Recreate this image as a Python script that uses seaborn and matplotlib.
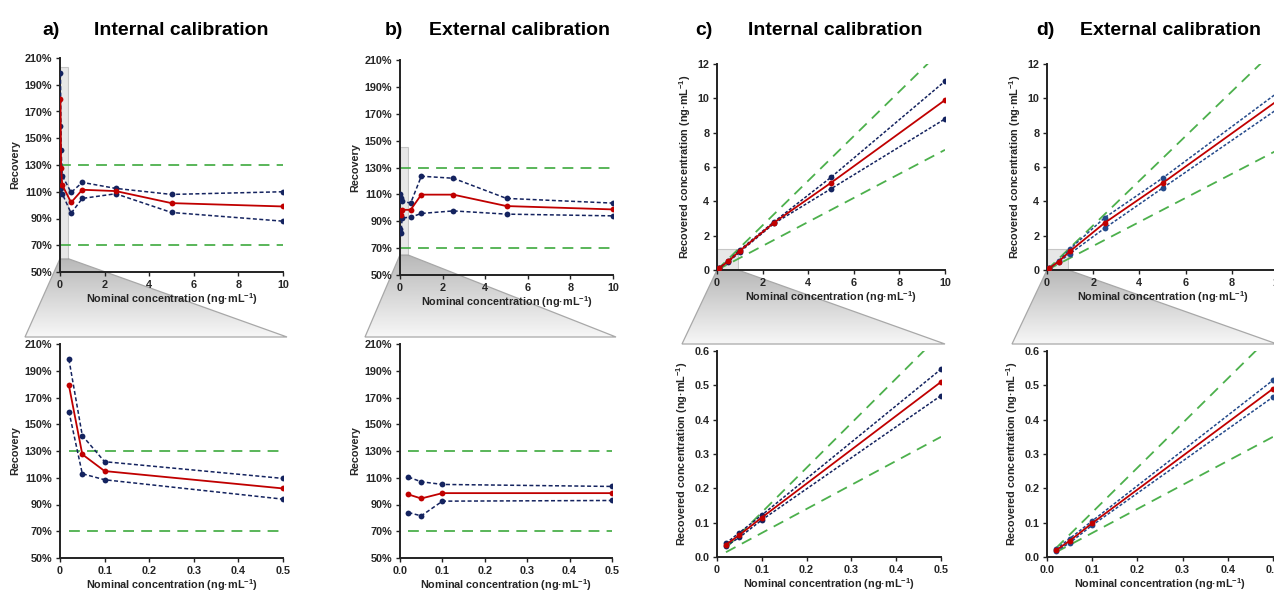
import numpy as np
import matplotlib
matplotlib.use("Agg")
import matplotlib.pyplot as plt
from matplotlib.patches import Polygon, Rectangle
from matplotlib.colors import LinearSegmentedColormap
from matplotlib.ticker import PercentFormatter
import seaborn as sns

W, H = 1274, 591

# nominal spiking levels (ng/mL)
nominal = [0.02, 0.05, 0.1, 0.5, 1, 2.5, 5, 10]

# recovery (%) - internal calibration
int_rec_mean = [179, 127.5, 115, 102, 111.5, 110.5, 101.5, 99]
int_rec_hi = [198.5, 141.5, 122, 109.5, 117, 112.5, 108, 110]
int_rec_lo = [159.5, 113, 108.5, 94, 105, 108.5, 94.5, 88]

# recovery (%) - external calibration
ext_rec_mean = [97.5, 94.5, 98.5, 98.5, 109.8, 109.8, 101.3, 98.8]
ext_rec_hi = [110.5, 107, 105, 103.5, 123.5, 122, 107, 103.5]
ext_rec_lo = [84, 81.5, 92.5, 93, 95.8, 97.7, 95.3, 94]

# recovered concentration (ng/mL) - internal calibration
int_conc_mean = [0.036, 0.064, 0.115, 0.51, 1.115, 2.76, 5.08, 9.9]
int_conc_hi = [0.040, 0.071, 0.122, 0.547, 1.17, 2.81, 5.4, 11.0]
int_conc_lo = [0.032, 0.057, 0.108, 0.47, 1.05, 2.71, 4.73, 8.8]

# recovered concentration (ng/mL) - external calibration
ext_conc_mean = [0.0195, 0.047, 0.0985, 0.49, 1.10, 2.75, 5.06, 9.89]
ext_conc_hi = [0.022, 0.0535, 0.105, 0.515, 1.235, 3.05, 5.35, 10.35]
ext_conc_lo = [0.017, 0.041, 0.0925, 0.466, 0.958, 2.44, 4.77, 9.4]

# acceptance limits
rec_limits = [130, 70]
conc_slopes = [1.3, 0.7]

NAVY = "#14235f"
BLUE_D = "#24498a"
RED = "#c00000"
GREEN = "#4cb04c"
SPINE = "#222222"

sns.set_theme(style="white")
plt.rcParams["font.family"] = ["Liberation Sans", "DejaVu Sans"]
plt.rcParams["font.weight"] = "bold"
plt.rcParams["axes.labelweight"] = "bold"
plt.rcParams["mathtext.fontset"] = "custom"
plt.rcParams["mathtext.rm"] = "Liberation Sans:bold"
plt.rcParams["mathtext.it"] = "Liberation Sans:bold"
plt.rcParams["mathtext.bf"] = "Liberation Sans:bold"
plt.rcParams["mathtext.default"] = "bf"

fig = plt.figure(figsize=(W / 100, H / 100), dpi=100)

# background layer for the zoom "funnels"
bg = fig.add_axes([0, 0, 1, 1])
bg.set_xlim(0, W)
bg.set_ylim(0, H)
bg.axis("off")
bg.set_zorder(0)


def px_axes(l, t, r, b):
    ax = fig.add_axes([l / W, 1 - b / H, (r - l) / W, (b - t) / H])
    ax.set_zorder(2)
    ax.patch.set_alpha(0)
    sns.despine(ax=ax)
    for s in ("left", "bottom"):
        ax.spines[s].set_color(SPINE)
        ax.spines[s].set_linewidth(1.4)
    ax.tick_params(bottom=True, left=True, direction="out", length=3, width=1,
                   color=SPINE, labelsize=7.8, pad=2.5)
    return ax


def draw_series(ax, lo, mid, hi, n, blue, dash, lw_blue=1.1):
    x = nominal[:n]
    for y in (hi, lo):
        sns.lineplot(x=x, y=y[:n], ax=ax, color=blue, linestyle=(0, dash),
                     linewidth=lw_blue, marker="o", markersize=4.2,
                     markeredgecolor=blue, markeredgewidth=0, zorder=3)
    sns.lineplot(x=x, y=mid[:n], ax=ax, color=RED, linewidth=1.3, marker="o",
                 markersize=4.2, markeredgecolor=RED, markeredgewidth=0, zorder=4)


def rec_limits_lines(ax, xmax):
    for lim in rec_limits:
        sns.lineplot(x=[0.02, xmax], y=[lim, lim], ax=ax, color=GREEN,
                     linewidth=1.3, linestyle=(0, (6, 4)), zorder=2)


def conc_limit_lines(ax, x0, x1):
    for s in conc_slopes:
        sns.lineplot(x=[x0, x1], y=[s * x0, s * x1], ax=ax, color=GREEN,
                     linewidth=1.3, linestyle=(0, (6, 4)), zorder=2)


def zoom_funnel(ax_top, rect, ax_bot):
    x0, y0, x1, y1 = rect
    ax_top.add_patch(Rectangle((x0, y0), x1 - x0, y1 - y0, facecolor="#d0d0d0",
                               edgecolor="#9a9a9a", linewidth=0.8, alpha=0.5, zorder=1))
    fig.canvas.draw()
    pl = ax_top.transData.transform((x0, y0))
    pr = ax_top.transData.transform((x1, y0))
    bb = ax_bot.get_window_extent()
    yb = bb.y1 + 7
    poly = [(pl[0], pl[1]), (pr[0], pr[1]), (bb.x1 + 4, yb), (bb.x0 - 35, yb)]
    patch = Polygon(poly, closed=True, facecolor="none", edgecolor="#a8a8a8",
                    linewidth=0.9)
    bg.add_patch(patch)
    cmap = LinearSegmentedColormap.from_list("g", ["#b8b8b8", "#f7f7f7"])
    im = bg.imshow(np.linspace(0, 1, 256)[:, None], cmap=cmap, aspect="auto",
                   extent=[bb.x0 - 40, bb.x1 + 10, yb, pl[1]], origin="upper",
                   zorder=0)
    im.set_clip_path(patch)
    bg.set_xlim(0, W)
    bg.set_ylim(0, H)


xlab = "Nominal concentration (ng·mL$^{-1}$)"
ylab_conc = "Recovered concentration (ng·mL$^{-1}$)"

panels = [
    # (kind, top-axes px box, bottom-axes px box, data, blue, bottom x labels, zoom rect)
    ("rec", (60, 58, 283, 272), (60, 344, 283, 558),
     (int_rec_lo, int_rec_mean, int_rec_hi), NAVY, ["0", "0.1", "0.2", "0.3", "0.4", "0.5"],
     (0, 60, 0.36, 203)),
    ("rec", (400, 60, 613, 275), (400, 344, 612, 558),
     (ext_rec_lo, ext_rec_mean, ext_rec_hi), NAVY, ["0.0", "0.1", "0.2", "0.3", "0.4", "0.5"],
     (0, 65, 0.36, 145)),
    ("conc", (717, 64, 945, 270), (717, 351, 941, 557),
     (int_conc_lo, int_conc_mean, int_conc_hi), NAVY, ["0", "0.1", "0.2", "0.3", "0.4", "0.5"],
     (0, 0, 0.92, 1.2)),
    ("conc", (1047, 64, 1278, 270), (1047, 351, 1273, 557),
     (ext_conc_lo, ext_conc_mean, ext_conc_hi), BLUE_D, ["0.0", "0.1", "0.2", "0.3", "0.4", "0.5"],
     (0, 0, 0.92, 1.2)),
]

for kind, box_t, box_b, (lo, mid, hi), blue, bot_xlabels, zrect in panels:
    at = px_axes(*box_t)
    ab = px_axes(*box_b)
    dash = (2.6, 1.6) if kind == "rec" else (2.0, 1.2)
    draw_series(at, lo, mid, hi, 8, blue, dash)
    draw_series(ab, lo, mid, hi, 4, blue, dash)
    if kind == "rec":
        rec_limits_lines(at, 10)
        rec_limits_lines(ab, 0.5)
        for ax in (at, ab):
            ax.set_ylim(50, 210)
            ax.set_yticks(np.arange(50, 211, 20))
            ax.yaxis.set_major_formatter(PercentFormatter(xmax=100, decimals=0))
            ax.set_ylabel("Recovery", fontsize=7.8, labelpad=3)
    else:
        conc_limit_lines(at, 0, 10)
        conc_limit_lines(ab, 0.02, 0.5)
        at.set_ylim(0, 12)
        at.set_yticks(np.arange(0, 13, 2))
        ab.set_ylim(0, 0.6)
        ab.set_yticks(np.arange(0, 0.61, 0.1),
                      labels=["0.0", "0.1", "0.2", "0.3", "0.4", "0.5", "0.6"])
        for ax in (at, ab):
            ax.set_ylabel(ylab_conc, fontsize=7.8, labelpad=3)
    at.set_xlim(0, 10)
    at.set_xticks(np.arange(0, 11, 2))
    ab.set_xlim(0, 0.5)
    ab.set_xticks(np.arange(0, 0.51, 0.1), labels=bot_xlabels)
    for ax in (at, ab):
        ax.set_xlabel(xlab, fontsize=7.8, labelpad=1)
        for lab in ax.get_xticklabels() + ax.get_yticklabels():
            lab.set_fontweight("bold")
    zoom_funnel(at, zrect, ab)

titles = [(42, "a)"), (94, "Internal calibration"), (385, "b)"),
          (429, "External calibration"), (695, "c)"), (748, "Internal calibration"),
          (1036, "d)"), (1080, "External calibration")]
for x, t in titles:
    fig.text(x / W, 1 - 35 / H, t, ha="left", va="baseline", fontsize=14,
             fontweight="bold", color="black")

fig.savefig("out.png", dpi=100)
